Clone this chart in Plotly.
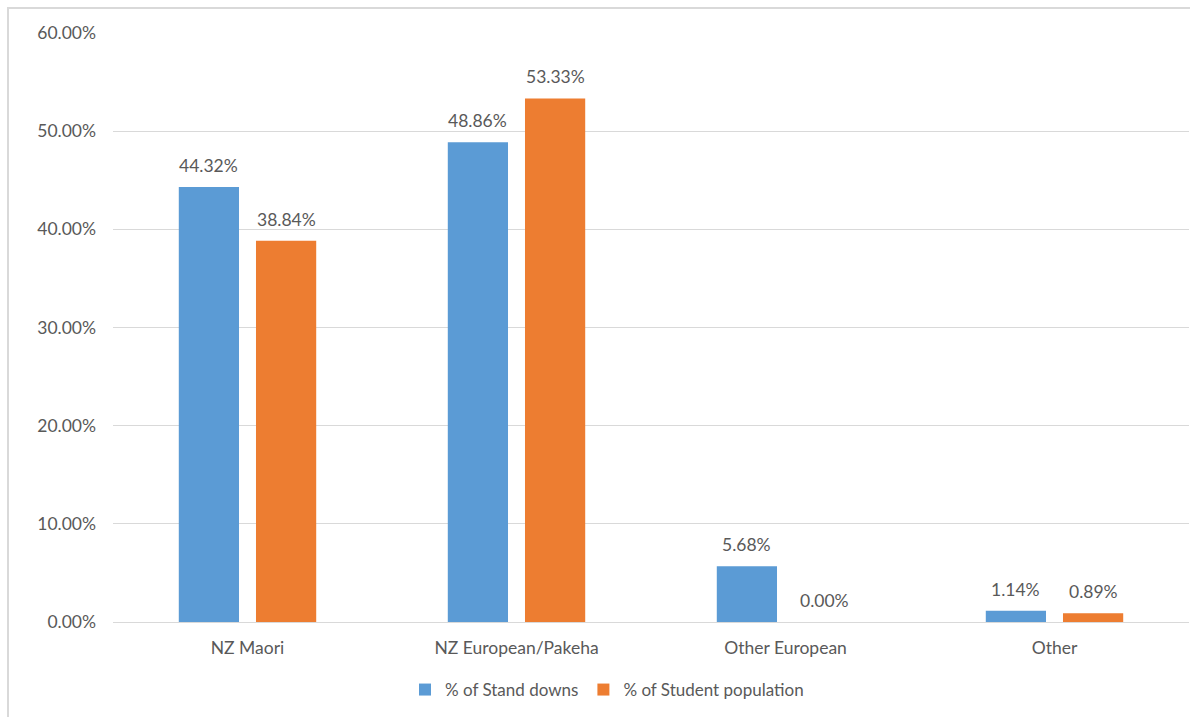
import plotly.graph_objects as go

categories = ["NZ Maori", "NZ European/Pakeha", "Other European", "Other"]
stand_downs = [44.32, 48.86, 5.68, 1.14]
student_population = [38.84, 53.33, 0.00, 0.89]
y_ticks = [0, 10, 20, 30, 40, 50, 60]
y_tick_labels = ["0.00%", "10.00%", "20.00%", "30.00%", "40.00%", "50.00%", "60.00%"]

TEXT = "#595959"
FONT = "Lato"
SIZE = 17.5

W, H = 1190, 717
L, R, T, B = 113, 1, 33, 95
pw, ph = W - L - R, H - T - B

BARGAP, GROUPGAP = 0.426, 0.22
slot = pw / len(categories) * (1 - BARGAP) / 2  # width reserved per series in a group

fig = go.Figure()
series = [
    ("% of Stand downs", stand_downs, "#5B9BD5", -slot / 2),
    ("% of Student population", student_population, "#ED7D31", slot / 2),
]
annotations = []
for name, vals, color, shift in series:
    fig.add_trace(go.Bar(
        x=categories, y=vals, name=name,
        marker=dict(color=color, line=dict(width=0)),
    ))
    for c, v in zip(categories, vals):
        annotations.append(dict(
            x=c, y=v, xref="x", yref="y", xshift=shift, yshift=9,
            text=f"{v:.2f}%", showarrow=False, yanchor="bottom",
            font=dict(family=FONT, size=SIZE, color=TEXT),
        ))


def px(x):
    return (x - L) / pw


def py(y):
    return (H - B - y) / ph


fig.update_layout(
    width=W, height=H,
    margin=dict(l=L, r=R, t=T, b=B),
    paper_bgcolor="white", plot_bgcolor="white",
    font=dict(family=FONT, size=SIZE, color=TEXT),
    barmode="group", bargap=BARGAP, bargroupgap=GROUPGAP,
    showlegend=True,
    legend=dict(orientation="h", x=px(607), xanchor="center", y=py(690), yanchor="middle",
                font=dict(family=FONT, size=17, color=TEXT), itemsizing="constant",
                traceorder="normal", itemwidth=30),
    xaxis=dict(showgrid=False, showline=False, ticks="", ticklabelstandoff=13,
               tickfont=dict(family=FONT, size=SIZE, color=TEXT)),
    yaxis=dict(range=[0, 60], tickvals=y_ticks, ticktext=y_tick_labels,
               showgrid=True, gridcolor="#d9d9d9", gridwidth=1,
               zeroline=True, zerolinecolor="#d9d9d9", zerolinewidth=1,
               showline=False, ticks="", ticklabelstandoff=16,
               tickfont=dict(family=FONT, size=SIZE, color=TEXT)),
    annotations=annotations,
    shapes=[dict(type="rect", xref="paper", yref="paper",
                 x0=px(8), x1=px(W + 20), y0=py(H + 20), y1=py(8),
                 line=dict(color="#d9d9d9", width=2), fillcolor="rgba(0,0,0,0)",
                 layer="below")],
)

fig.write_html("out.html")
